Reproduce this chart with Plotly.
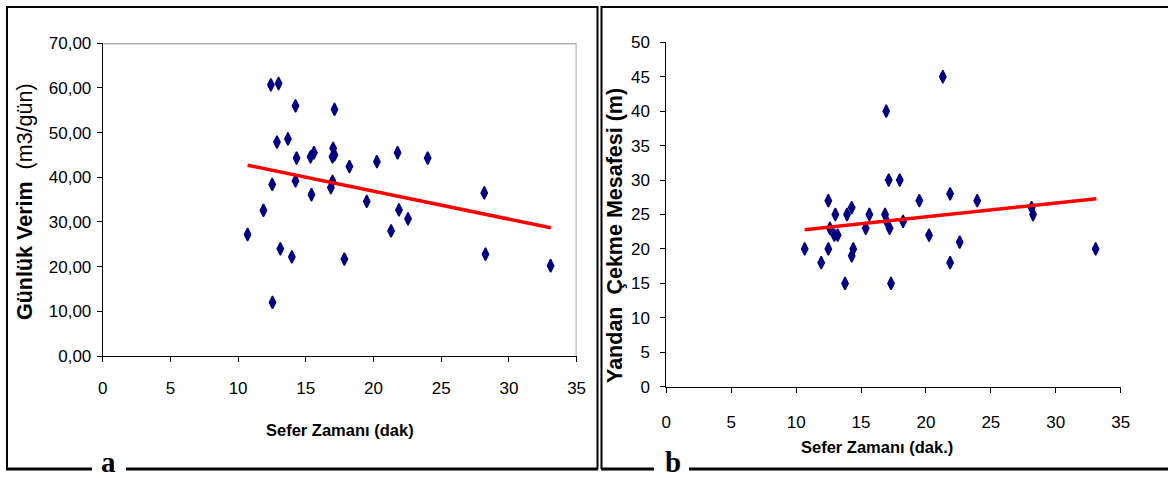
import plotly.graph_objects as go

# ---------------- data ----------------
# Panel a: Sefer Zamanı (dak) vs Günlük Verim (m3/gün)
xa = [10.70, 11.87, 12.42, 12.99, 12.52, 12.54, 12.87, 13.12, 13.68, 13.97, 14.24, 14.32,
      14.24, 15.35, 15.60, 15.42, 16.85, 16.97, 17.12, 17.02, 17.12, 16.97, 17.85, 18.22,
      19.50, 20.25, 21.30, 21.78, 21.88, 22.55, 24.00, 28.18, 28.27, 33.08]
ya = [27.2, 32.6, 60.7, 61.0, 38.4, 12.0, 47.9, 24.0, 48.6, 22.2, 56.0, 44.3,
      39.2, 44.6, 45.5, 36.1, 37.7, 39.1, 55.2, 46.5, 45.0, 44.6, 21.7, 42.4,
      34.6, 43.5, 28.0, 45.5, 32.7, 30.7, 44.3, 36.5, 22.8, 20.2]
trend_ax = [10.70, 33.10]
trend_ay = [42.7, 28.7]

# Panel b: Sefer Zamanı (dak.) vs Yandan Çekme Mesafesi (m)
xb = [10.66, 11.93, 12.48, 12.48, 12.60, 13.02, 12.94, 13.20, 13.77, 13.92, 14.28, 14.28,
      14.40, 15.36, 15.64, 16.85, 17.13, 16.94, 16.98, 17.20, 17.31, 17.98, 18.24, 19.49,
      20.24, 21.30, 21.86, 21.86, 22.60, 23.95, 28.13, 28.25, 33.07]
yb = [20, 18, 27, 20, 23, 25, 22, 22, 15, 25, 26, 19,
      20, 23, 25, 25, 30, 40, 24, 23, 15, 30, 24, 27,
      22, 45, 28, 18, 21, 27, 26, 25, 20]
trend_bx = [10.66, 33.13]
trend_by = [22.8, 27.3]

x_ticks = [0, 5, 10, 15, 20, 25, 30, 35]
ya_ticks = [0, 10, 20, 30, 40, 50, 60, 70]
ya_ticktext = ["0,00", "10,00", "20,00", "30,00", "40,00", "50,00", "60,00", "70,00"]
yb_ticks = [0, 5, 10, 15, 20, 25, 30, 35, 40, 45, 50]

# ---------------- layout helpers ----------------
W, H = 1168, 478
def px(x):
    return x / W
def py(y):
    return 1 - y / H

SANS = "Liberation Sans, Arial, sans-serif"
SERIF = "Liberation Serif, Times New Roman, serif"

fig = go.Figure()

marker = dict(symbol="diamond-tall", size=9, color="#000080",
              line=dict(color="#000080", width=1.5))

fig.add_trace(go.Scatter(x=xa, y=ya, mode="markers", marker=marker,
                         xaxis="x", yaxis="y", showlegend=False))
fig.add_trace(go.Scatter(x=trend_ax, y=trend_ay, mode="lines",
                         line=dict(color="#ff0000", width=3.5),
                         xaxis="x", yaxis="y", showlegend=False))
fig.add_trace(go.Scatter(x=xb, y=yb, mode="markers", marker=marker,
                         xaxis="x2", yaxis="y2", showlegend=False))
fig.add_trace(go.Scatter(x=trend_bx, y=trend_by, mode="lines",
                         line=dict(color="#ff0000", width=3.5),
                         xaxis="x2", yaxis="y2", showlegend=False))

axis_common = dict(showgrid=False, zeroline=False, showline=True, linecolor="black",
                   linewidth=1, ticks="outside", ticklen=5, tickcolor="black",
                   tickwidth=1, tickfont=dict(family=SANS, size=17, color="black"),
                   fixedrange=True, automargin=False)

fig.update_layout(
    width=W, height=H, autosize=False,
    margin=dict(l=0, r=0, t=0, b=0, pad=0, autoexpand=False),
    showlegend=False,
    paper_bgcolor="white", plot_bgcolor="white",
    xaxis=dict(domain=[px(102.7), px(576.6)], range=[0, 35], tickvals=x_ticks,
               anchor="y", ticklabelstandoff=12, **axis_common),
    yaxis=dict(domain=[py(356), py(43.3)], range=[0, 70], tickvals=ya_ticks,
               ticktext=ya_ticktext, anchor="x", ticklabelstandoff=2, **axis_common),
    xaxis2=dict(domain=[px(666.3), px(1120.7)], range=[0, 35], tickvals=x_ticks,
                anchor="y2", ticklabelstandoff=15, **axis_common),
    yaxis2=dict(domain=[py(386.7), py(42.3)], range=[0, 50], tickvals=yb_ticks,
                anchor="x2", ticklabelstandoff=7, **axis_common),
)

shapes = []
def pline(x0, y0, x1, y1, width=2, color="black"):
    shapes.append(dict(type="line", xref="paper", yref="paper",
                       x0=px(x0), y0=py(y0), x1=px(x1), y1=py(y1),
                       line=dict(color=color, width=width)))

# panel a border
pline(7, 7, 7, 469)
pline(6, 7, 598, 7)
pline(597.5, 6, 597.5, 469)
pline(6, 469, 92, 469, width=3)
pline(126, 469, 598, 469, width=3)
# panel b border
pline(601.5, 6, 601.5, 469)
pline(601, 7, 1168, 7)
pline(601, 469, 654, 469, width=3)
pline(689, 469, 1168, 469, width=3)

# grey plot-area frame (top and right) of panel a
shapes.append(dict(type="line", xref="x", yref="y", x0=0, y0=70, x1=35, y1=70,
                   line=dict(color="#8c8c8c", width=2)))
shapes.append(dict(type="line", xref="x", yref="y", x0=35, y0=0, x1=35, y1=70,
                   line=dict(color="#a8a8a8", width=2)))
fig.update_layout(shapes=shapes)

ann = []
def text(x, y, t, size, family, angle=0, height=None):
    d = dict(xref="paper", yref="paper", x=px(x), y=py(y), text=t,
             showarrow=False, textangle=angle, xanchor="center",
             yanchor="middle", font=dict(family=family, size=size, color="black"))
    if height:
        d["height"] = height
    ann.append(d)

text(339.6, 430, "<b>Sefer Zamanı (dak)</b>", 16.5, SANS)
text(877, 446.5, "<b>Sefer Zamanı (dak.)</b>", 16.5, SANS)
text(25.5, 201.5, "<b>Günlük Verim</b>  (m3/gün)", 21.5, SANS, angle=-90)
text(615, 236, "<b>Yandan  Çekme Mesafesi (m)</b>", 21.5, SANS, angle=-90)
text(108, 461.5, "<b>a</b>", 29, SERIF, height=24)
text(672.8, 461.5, "<b>b</b>", 29, SERIF, height=24)
fig.update_layout(annotations=ann)

fig.write_html("out.html", config={"displayModeBar": False},
               post_script="document.body.style.margin='0';document.body.style.overflow='hidden';")
